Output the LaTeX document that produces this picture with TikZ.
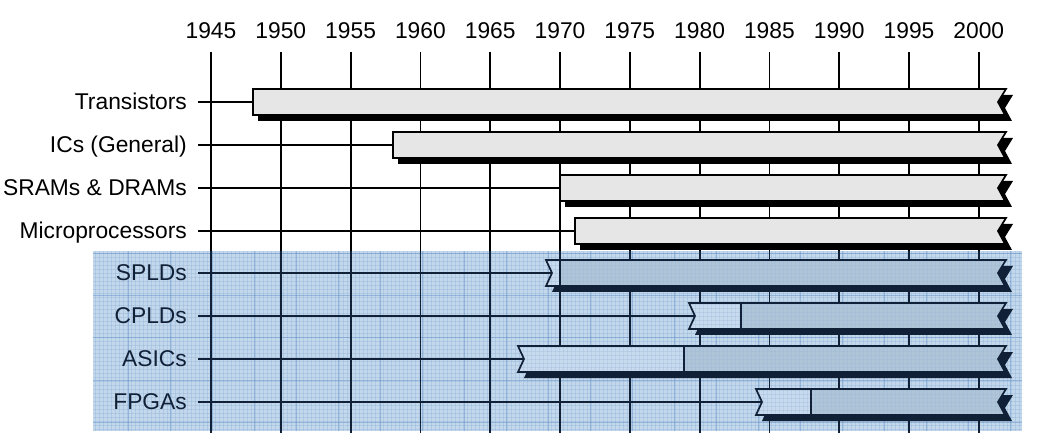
\documentclass[tikz,border=0pt]{standalone}
\usepackage{fontspec}
\setmainfont{Liberation Sans}
\definecolor{navy}{RGB}{16,32,54}
\definecolor{bgblue}{RGB}{196,216,236}
\definecolor{barlight}{RGB}{200,219,238}
\definecolor{bardark}{RGB}{176,196,216}
\definecolor{bargray}{RGB}{230,230,230}
\definecolor{gridfine}{RGB}{150,182,218}
\definecolor{gridmid}{RGB}{100,148,200}
\tikzset{
  lbl/.style={anchor=base east, inner sep=0pt, font=\fontsize{22.8}{26}\selectfont},
  yearlbl/.style={anchor=base, inner sep=0pt, font=\fontsize{22.8}{26}\selectfont},
  yline/.style={line width=1.8pt},
  conn/.style={line width=1.8pt},
  barout/.style={line width=1.7pt, line join=miter},
}
\newcommand\toprow[4]{%
  \node[lbl] (#1) at (187,#3+7.5) {#2};
  \coordinate (#1s) at (#4,#3);
  \draw[conn,black] ([xshift=11pt]#1.east |- #1s) -- (#1s);
  \fill[black] (#4+5,#3-7) -- (1013,#3-7) -- (1005,#3+6) -- (1012,#3+19) -- (#4+5,#3+19) -- cycle;
  \draw[barout,black,fill=bargray] (#4,#3-13) -- (1006,#3-13) -- (998,#3) -- (1005,#3+13) -- (#4,#3+13) -- cycle;
}
\newcommand\botrow[5]{%
  \node[lbl,text=navy] (#1) at (187,#3+7.5) {#2};
  \coordinate (#1s) at (#4+6,#3);
  \draw[conn,navy] ([xshift=11pt]#1.east |- #1s) -- (#1s);
  \fill[navy] (#4+6,#3-7) -- (1013,#3-7) -- (1005,#3+6) -- (1012,#3+19) -- (#4+6,#3+19) -- (#4+12,#3+6) -- cycle;
  \fill[barlight] (#4,#3-13) -- (#5,#3-13) -- (#5,#3+13) -- (#4,#3+13) -- (#4+6,#3) -- cycle;
  \fill[bardark] (#5,#3-13) -- (1006,#3-13) -- (998,#3) -- (1005,#3+13) -- (#5,#3+13) -- cycle;
  \begin{scope}
    \clip (#4,#3-13) -- (1006,#3-13) -- (998,#3) -- (1005,#3+13) -- (#4,#3+13) -- (#4+6,#3) -- cycle;
    \foreach \x in {95,99,...,1021} \draw[gridfine, line width=0.35pt, opacity=0.3] (\x,#3-14) -- (\x,#3+14);
    \foreach \y in {-12,-8,...,12} \draw[gridfine, line width=0.35pt, opacity=0.3] (#4,#3+\y) -- (1010,#3+\y);
  \end{scope}
  \draw[barout,navy] (#5,#3-13) -- (#5,#3+13);
  \draw[barout,navy] (#4,#3-13) -- (1006,#3-13) -- (998,#3) -- (1005,#3+13) -- (#4,#3+13) -- (#4+6,#3) -- cycle;
}
\begin{document}
\begin{tikzpicture}[x=1pt,y=-1pt]
\useasboundingbox (0,0) rectangle (1038,443);
% blue panel with graph-paper texture
\fill[bgblue] (93,251) rectangle (1022,431);
\begin{scope}
  \clip (93,251) rectangle (1022,431);
  \foreach \x in {95,99,...,1021} \draw[gridfine, line width=0.35pt, opacity=0.45] (\x,251) -- (\x,431);
  \foreach \y in {253,257,...,431} \draw[gridfine, line width=0.35pt, opacity=0.45] (93,\y) -- (1022,\y);
  \foreach \x in {128,170,...,1022} \draw[gridmid, line width=0.6pt, opacity=0.5] (\x,251) -- (\x,431);
  \foreach \y in {253,295.3,...,431} \draw[gridmid, line width=0.6pt, opacity=0.5] (93,\y) -- (1022,\y);
\end{scope}
% year scale
\foreach \yr [count=\i from 0] in {1945,1950,...,2000} {
  \pgfmathsetmacro\xx{211+69.8*\i}
  \node[yearlbl] (y\yr) at (\xx,39) {\yr};
  \coordinate (a\yr) at (\xx,52);
  \coordinate (m\yr) at (\xx,251);
  \coordinate (b\yr) at (\xx,433);
  \draw[yline,black] (a\yr) -- (m\yr);
  \draw[yline,navy] (m\yr) -- (b\yr);
}
% rows
\toprow{tr}{Transistors}{102}{253}
\toprow{ic}{ICs (General)}{145}{393}
\toprow{sr}{SRAMs \& DRAMs}{188}{560}
\toprow{mp}{Microprocessors}{231}{575}
\botrow{sp}{SPLDs}{273}{546}{560}
\botrow{cp}{CPLDs}{316}{689}{741}
\botrow{as}{ASICs}{359}{518}{684}
\botrow{fp}{FPGAs}{402}{756}{811}
\end{tikzpicture}
\end{document}
